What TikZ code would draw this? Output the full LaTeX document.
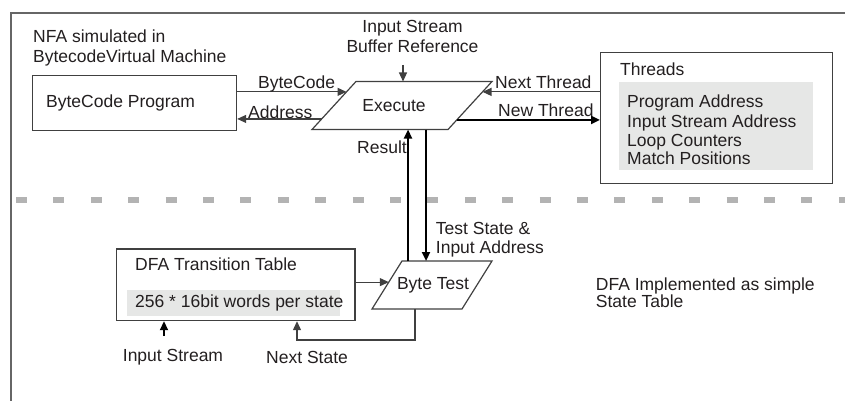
\documentclass[tikz,border=0pt]{standalone}
\usepackage{fontspec}
\setmainfont{Liberation Sans}
\usetikzlibrary{arrows.meta,calc}

\definecolor{ink}{HTML}{231F20}
\definecolor{edge}{HTML}{404040}
\definecolor{shade}{HTML}{E6E7E6}
\definecolor{divider}{HTML}{B3B3B3}

\tikzset{
  lbl/.style={anchor=base west, inner sep=0pt, text=ink, font=\fontsize{17.5}{20}\selectfont},
  clbl/.style={lbl, anchor=base},
  box/.style={draw=edge, line width=1.2pt, fill=white},
  para/.style={draw=edge, line width=1.2pt, fill=white, line join=miter},
  arr/.style={draw=edge, line width=1.2pt, -{Triangle[length=9pt,width=8pt]}},
  thickarr/.style={draw=black, line width=2.2pt, -{Triangle[length=9pt,width=8pt]}},
}

\begin{document}
\begin{tikzpicture}[x=1pt, y=-1pt]
\useasboundingbox (0,0) rectangle (845,401);

% outer frame, open to the right and bottom
\coordinate (fb) at (11,405);
\coordinate (ft) at (11,13);
\coordinate (fr) at (850,13);
\draw[edge!80, line width=1.4pt] (fb) -- (ft) -- (fr);

% divider between NFA and DFA parts
\coordinate (dl) at (16,200);
\coordinate (dr) at (850,200);
\draw[divider, line width=5.5pt, dash pattern=on 11pt off 26.4pt] (dl) -- (dr);

% ---------------- NFA part ----------------
\node[lbl] (nfa1) at (33,43) {NFA simulated in};
\node[lbl] (nfa2) at (33,63) {BytecodeVirtual Machine};

\node[box, minimum width=204pt, minimum height=55pt, anchor=north west] (prog) at (32,75) {};
\node[lbl] (progt) at (46,107) {ByteCode Program};

% executor (parallelogram)
\coordinate (extl) at (356,81.5);
\coordinate (extr) at (492,81.5);
\coordinate (exbr) at (448,129.5);
\coordinate (exbl) at (312,129.5);
\draw[para] (extl) -- (extr) -- (exbr) -- (exbl) -- cycle;
\node[clbl] (exec) at (394,111) {Execute};

\node[clbl] (isb1) at (412.5,33) {Input Stream};
\node[clbl] (isb2) at (412.5,52.5) {Buffer Reference};
\coordinate (isbtail) at (403,65);
\draw[arr] (isbtail) -- (isbtail |- extl);

% ByteCode / Address arrows between program and executor
\coordinate (el1) at ($(extl)!0.216!(exbl)$);
\coordinate (el2) at ($(extl)!0.78!(exbl)$);
\draw[arr] (prog.east |- el1) -- (el1);
\draw[arr] (el2) -- (prog.east |- el2);
\node[lbl] (bcl) at (258,89) {ByteCode};
\node[lbl] (adl) at (248,118) {Address};

% Threads store
\node[box, minimum width=232pt, minimum height=131pt, anchor=north west] (thr) at (600,52) {};
\node[lbl] (thrt) at (620,76) {Threads};
\node[fill=shade, inner sep=0pt, minimum width=194pt, minimum height=87pt, anchor=north west] (thrlist) at (619,82.3) {};
\node[lbl] (tl1) at (627,107.3) {Program Address};
\node[lbl] (tl2) at (627,127.3) {Input Stream Address};
\node[lbl] (tl3) at (627,146.5) {Loop Counters};
\node[lbl] (tl4) at (627,164.5) {Match Positions};

\coordinate (er1) at ($(extr)!0.216!(exbr)$);
\coordinate (er2) at ($(extr)!0.80!(exbr)$);
\draw[arr] (thr.west |- er1) -- (er1);
\draw[thickarr] (er2) -- (thr.west |- er2);
\node[lbl] (ntl) at (495,88.3) {Next Thread};
\node[lbl] (nwl) at (498,116.7) {New Thread};

% ---------------- DFA part ----------------
% byte tester (parallelogram)
\coordinate (bttl) at (402,261);
\coordinate (bttr) at (492,261);
\coordinate (btbr) at (462,309);
\coordinate (btbl) at (372,309);
\draw[para] (bttl) -- (bttr) -- (btbr) -- (btbl) -- cycle;
\node[clbl] (bt) at (433,289) {Byte Test};

% Result goes up, test state goes down
\coordinate (resx) at (408,0);
\coordinate (tstx) at (426,0);
\draw[thickarr] (bttl -| resx) -- (exbl -| resx);
\draw[thickarr] (exbl -| tstx) -- (bttl -| tstx);
\node[lbl] (resl) at (357,153.3) {Result};
\node[lbl] (tsl1) at (435.7,234.3) {Test State \&};
\node[lbl] (tsl2) at (435.7,253.3) {Input Address};

\node[box, minimum width=238.5pt, minimum height=71.7pt, anchor=north west] (dfa) at (115.8,248.3) {};
\node[lbl] (dfat) at (135,270.7) {DFA Transition Table};
\node[fill=shade, inner sep=0pt, minimum width=212.6pt, minimum height=26.7pt, anchor=north west] (dfalist) at (126.7,289.3) {};
\node[lbl] (dfal) at (135,307.3) {256 * 16bit words per state};

\coordinate (bl) at ($(bttl)!0.44!(btbl)$);
\draw[arr] (dfa.east |- bl) -- (bl);

\coordinate (instail) at (164,336);
\draw[thickarr, line width=1.8pt] (instail) -- (instail |- dfa.south);
\node[lbl] (insl) at (122.7,361.7) {Input Stream};

\coordinate (nsturn) at (415,340);
\coordinate (nscorner) at (297,340);
\draw[arr] (btbl -| nsturn) -- (nsturn) -- (nscorner) -- (nscorner |- dfa.south);
\node[lbl] (nsl) at (266,363.3) {Next State};

\node[lbl] (dfi1) at (595.7,290) {DFA Implemented as simple};
\node[lbl] (dfi2) at (595.7,307.3) {State Table};
\end{tikzpicture}
\end{document}
